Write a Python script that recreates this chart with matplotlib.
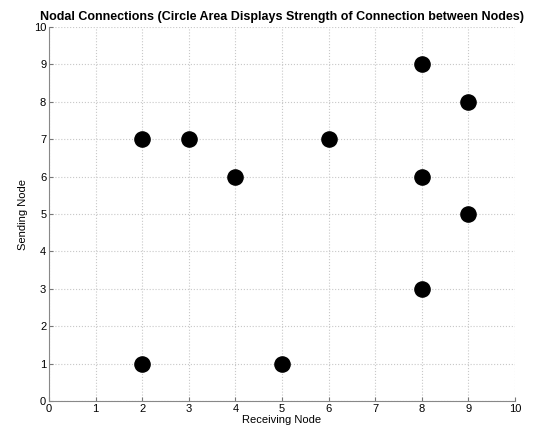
import matplotlib

matplotlib.use("Agg")
import matplotlib.pyplot as plt  # noqa: E402

plt.rcParams["font.family"] = ["Liberation Sans", "DejaVu Sans"]

# receiving node (x) -> sending node (y)
RECEIVING = [2, 3, 4, 6, 8, 9, 8, 9, 8, 2, 5]
SENDING = [7, 7, 6, 7, 9, 8, 6, 5, 3, 1, 1]
TICKS = list(range(0, 11))


def main() -> None:
    fig = plt.figure(figsize=(5.34, 4.30), dpi=100)
    ax = fig.add_axes([0.0918, 0.0674, 0.8726, 0.8696])
    ax.scatter(RECEIVING, SENDING, s=120, color="black", zorder=3)
    ax.set_xlim(0, 10)
    ax.set_ylim(0, 10)
    ax.set_xticks(TICKS)
    ax.set_yticks(TICKS)
    ax.tick_params(labelsize=8, length=3, direction="in", color="#777", pad=2)
    ax.grid(True, linestyle=":", color="#c8c8c8", linewidth=0.8)
    for side in ("top", "right"):
        ax.spines[side].set_visible(False)
    for side in ("left", "bottom"):
        ax.spines[side].set_color("#888")
    ax.set_xlabel("Receiving Node", fontsize=8, labelpad=1)
    ax.set_ylabel("Sending Node", fontsize=8, labelpad=4)
    ax.set_title(
        "Nodal Connections (Circle Area Displays Strength of Connection between Nodes)",
        fontsize=9.0, fontweight="bold", pad=5,
    )
    fig.savefig("out.png", dpi=100)


if __name__ == "__main__":
    main()
